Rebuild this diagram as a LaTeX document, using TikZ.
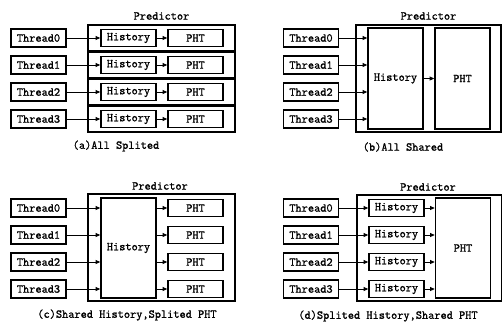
\documentclass[tikz,border=0pt]{standalone}
\usepackage{fontspec}
\setmonofont{Latin Modern Mono}[AutoFakeBold=1.2]
\usetikzlibrary{arrows.meta,calc}
\begin{document}
\begin{tikzpicture}[x=1pt,y=-1pt,
  txt/.style={font=\ttfamily\bfseries\fontsize{12}{13}\selectfont, inner sep=0pt},
  lbl/.style={font=\ttfamily\bfseries\fontsize{12}{13}\selectfont},
  thr/.style={draw, line width=1.1pt, lbl, inner sep=0pt, minimum width=55pt, minimum height=18pt},
  blk/.style={draw, line width=1.7pt, lbl, inner sep=0pt, minimum width=55pt},
  outerbox/.style={draw, line width=2.4pt, inner sep=0pt},
  arr/.style={line width=0.9pt, -{Triangle[length=4.5pt,width=4pt]}},
]
\useasboundingbox (0,0) rectangle (502,322);

% ---------- (a) All Splited ----------
\node[txt] (aPred) at (161.5,16) {Predictor};
\foreach \i/\y in {0/38,1/65,2/92,3/119} {
  \node[outerbox, minimum width=147pt, minimum height=26pt] (aR\i) at (161.5,\y) {};
  \node[blk, minimum height=17pt] (aH\i) at (128.5,\y) {History};
  \node[blk, minimum height=17pt] (aP\i) at (195.5,\y) {PHT};
  \node[thr] (aT\i) at (38.5,\y) {Thread\i};
  \draw[arr] (aT\i) -- (aH\i);
  \draw[arr] (aH\i) -- (aP\i);
}
\node[txt] (aCap) at (116,146) {(a)All Splited};

% ---------- (b) All Shared ----------
\node[txt] (bPred) at (428.5,16) {Predictor};
\node[outerbox, minimum width=145pt, minimum height=107pt] (bO) at (428.5,78.5) {};
\node[blk, minimum height=101pt] (bH) at (395.5,78.5) {History};
\node[blk, minimum height=101pt] (bP) at (462.5,78.5) {PHT};
\draw[arr] (bH) -- (bP);
\foreach \i/\y in {0/38,1/65,2/92,3/119} {
  \node[thr] (bT\i) at (311,\y) {Thread\i};
  \draw[arr] (bT\i.east) -- (bT\i.east -| bH.west);
}
\node[txt] (bCap) at (403,147) {(b)All Shared};

% ---------- (c) Shared History, Splited PHT ----------
\node[txt] (cPred) at (160,186) {Predictor};
\node[outerbox, minimum width=147pt, minimum height=107pt] (cO) at (161.5,247.5) {};
\node[blk, minimum height=100pt] (cH) at (128.5,248) {History};
\foreach \i/\y in {0/208,1/235,2/262,3/289} {
  \node[blk, minimum height=17pt] (cP\i) at (195.5,\y) {PHT};
  \node[thr] (cT\i) at (38.5,\y) {Thread\i};
  \draw[arr] (cT\i.east) -- (cT\i.east -| cH.west);
  \draw[arr] (cP\i.west -| cH.east) -- (cP\i.west);
}
\node[txt] (cCap) at (127,315) {(c)Shared History,Splited PHT};

% ---------- (d) Splited History, Shared PHT ----------
\node[txt] (dPred) at (428,187) {Predictor};
\node[outerbox, minimum width=145pt, minimum height=106pt] (dO) at (429.5,248) {};
\node[blk, minimum height=100pt] (dP) at (463,248) {PHT};
\foreach \i/\y in {0/208,1/235,2/262,3/289} {
  \node[blk, minimum height=17pt] (dH\i) at (396.5,\y) {History};
  \node[thr] (dT\i) at (311,\y) {Thread\i};
  \draw[arr] (dT\i) -- (dH\i);
  \draw[arr] (dH\i.east) -- (dH\i.east -| dP.west);
}
\node[txt] (dCap) at (388,316) {(d)Splited History,Shared PHT};
\end{tikzpicture}
\end{document}
